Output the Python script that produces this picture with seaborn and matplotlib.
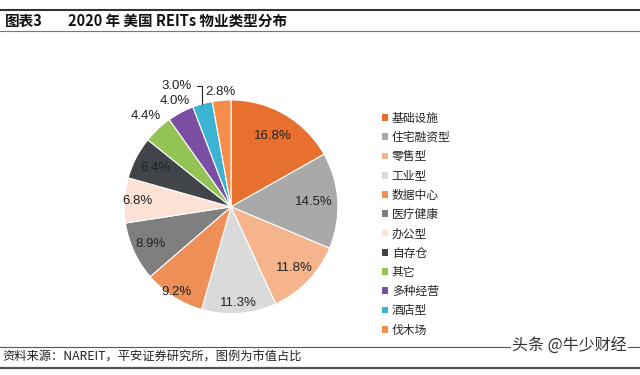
import numpy as np
import seaborn as sns
import matplotlib.pyplot as plt
from matplotlib.patches import Patch
from matplotlib.lines import Line2D

# 数据
categories = ["基础设施", "住宅融资型", "零售型", "工业型", "数据中心", "医疗健康",
              "办公型", "自存仓", "其它", "多种经营", "酒店型", "伐木场"]
shares = [16.8, 14.5, 11.8, 11.3, 9.2, 8.9, 6.8, 6.4, 4.4, 4.0, 3.0, 2.8]
colors = ["#E8702F", "#A9A9A9", "#F5B48C", "#DADADA", "#EE8F58", "#7F7F7F",
          "#FCE2D4", "#414549", "#93C355", "#7A4FA3", "#3BB4D4", "#F68E4A"]

# label radius (fraction of pie radius) for each slice
label_r = [0.77, 0.78, 0.82, 0.9, 0.95, 0.83, 0.88, 0.8, 1.17, 1.12, 1.17, 1.08]

sns.set_theme(style="white")
plt.rcParams["font.family"] = ["Noto Sans CJK SC", "DejaVu Sans"]

fig = plt.figure(figsize=(6.4, 3.75), dpi=100)
ax = fig.add_axes([0.194, 0.163, 0.334, 0.571])

wedges, _ = ax.pie(shares, colors=colors, startangle=90, counterclock=False,
                   wedgeprops=dict(linewidth=0.8, edgecolor="white"))
ax.set_xlim(-1, 1)
ax.set_ylim(-1, 1)
ax.set_aspect("equal")

num_font = ["Liberation Sans", "DejaVu Sans"]
total = sum(shares)
cum = 0
for i, v in enumerate(shares):
    mid = (cum + v / 2) / total * 360
    cum += v
    theta = np.deg2rad(90 - mid)
    x, y = label_r[i] * np.cos(theta), label_r[i] * np.sin(theta)
    txt = f"{v:.1f}%"
    if i == 10:
        ex, ey = np.cos(theta), np.sin(theta)
        ax.annotate(txt, xy=(ex, ey), xytext=(x - 0.2, y),
                    ha="center", va="center", fontsize=9.5, family=num_font,
                    color="#222222", annotation_clip=False,
                    arrowprops=dict(arrowstyle="-", color="#222222", lw=0.8,
                                    connectionstyle="angle,angleA=0,angleB=90,rad=0",
                                    shrinkA=2, shrinkB=0))
    else:
        ax.text(x, y, txt, ha="center", va="center", fontsize=9.5,
                family=num_font, color="#222222")

# legend
handles = [Patch(facecolor=c, edgecolor="none") for c in colors]
fig.legend(handles, categories, loc="upper left",
           bbox_to_anchor=(377 / 640, 1 - 107 / 375), frameon=False,
           fontsize=8.5, handlelength=0.5, handleheight=0.5,
           handletextpad=0.35, labelspacing=0.53, borderaxespad=0)

# title and rules
fig.add_artist(Line2D([0, 1], [1 - 9.5 / 375] * 2, color="#333333", lw=1.5))
fig.add_artist(Line2D([0, 1], [1 - 30.5 / 375] * 2, color="#777777", lw=0.8))
fig.text(5 / 640, 1 - 20.5 / 375, "图表3", fontsize=10.5, fontweight="bold",
         va="center", ha="left", color="#111111")
fig.text(68 / 640, 1 - 20.5 / 375, "2020 年 美国 REITs 物业类型分布", fontsize=10.5,
         fontweight="bold", va="center", ha="left", color="#111111")

# footer
fig.add_artist(Line2D([0, 1], [1 - 347 / 375] * 2, color="#555555", lw=0.8))
fig.add_artist(Line2D([0, 1], [1 - 367.5 / 375] * 2, color="#555555", lw=1.6))
fig.text(2 / 640, 1 - 357 / 375, "资料来源：NAREIT，平安证券研究所，图例为市值占比",
         fontsize=8.8, style="italic", va="center", ha="left", color="#222222")
fig.text(512 / 640, 1 - 346 / 375, "头条 @牛少财经", fontsize=11.5,
         va="center", ha="left", color="#333333",
         bbox=dict(facecolor="white", edgecolor="none", pad=1))

fig.savefig("out.png", dpi=100)
